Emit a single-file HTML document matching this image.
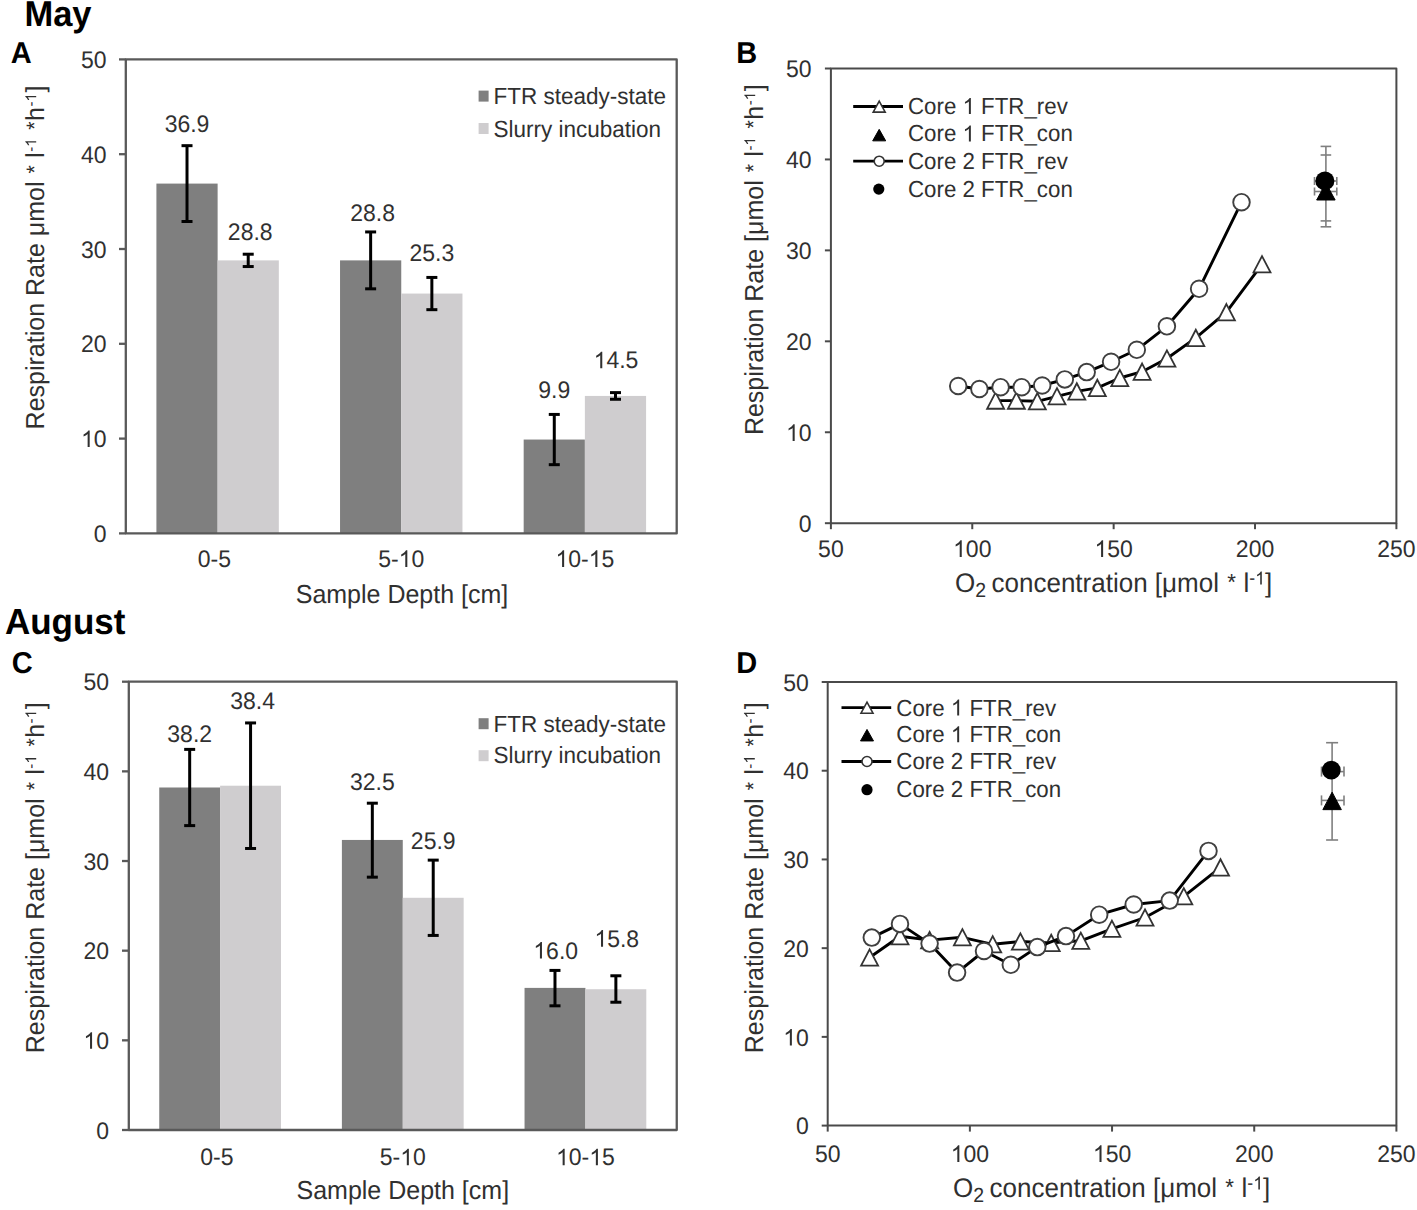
<!DOCTYPE html><html><head><meta charset="utf-8"><title>Respiration rates</title><style>html,body{margin:0;padding:0;background:#fff;width:1417px;height:1210px;overflow:hidden}body{position:relative;font-family:"Liberation Sans",sans-serif}</style></head><body><svg width="1417" height="1210" viewBox="0 0 1417 1210" style="position:absolute;left:0;top:0">
<rect width="1417" height="1210" fill="#fff"/>
<g text-rendering="geometricPrecision" font-family='"Liberation Sans", sans-serif'>
<rect x="156.41" y="183.59" width="61.21" height="349.81" fill="#7f7f7f"/>
<rect x="217.62" y="260.38" width="61.21" height="273.02" fill="#cfcdcf"/>
<rect x="340.04" y="260.38" width="61.21" height="273.02" fill="#7f7f7f"/>
<rect x="401.25" y="293.56" width="61.21" height="239.84" fill="#cfcdcf"/>
<rect x="523.67" y="439.55" width="61.21" height="93.85" fill="#7f7f7f"/>
<rect x="584.88" y="395.94" width="61.21" height="137.46" fill="#cfcdcf"/>
<path d="M125.80,533.40 L125.80,59.40 L676.70,59.40 L676.70,533.40 Z" fill="none" stroke="#595959" stroke-width="2.3" stroke-linejoin="round"/>
<line x1="119.00" y1="533.40" x2="125.80" y2="533.40" stroke="#595959" stroke-width="2.3" />
<g transform="translate(106.60,541.90) scale(1,1.04)"><text id="t0" x="0" y="0" font-size="23" text-anchor="end" font-weight="normal" fill="#303030">0</text></g>
<line x1="119.00" y1="438.60" x2="125.80" y2="438.60" stroke="#595959" stroke-width="2.3" />
<g transform="translate(106.60,447.10) scale(1,1.04)"><text id="t1" x="0" y="0" font-size="23" text-anchor="end" font-weight="normal" fill="#303030">&#x2007;0</text><path transform="translate(-25.59,0.00) scale(0.01136,-0.01136)" d="M763,0 L583,0 L583,1102 Q518,1043 413,983 Q308,925 224,895 L224,1062 Q375,1130 488,1227 Q601,1324 648,1409 L763,1409 Z" fill="#303030"/></g>
<line x1="119.00" y1="343.80" x2="125.80" y2="343.80" stroke="#595959" stroke-width="2.3" />
<g transform="translate(106.60,352.30) scale(1,1.04)"><text id="t2" x="0" y="0" font-size="23" text-anchor="end" font-weight="normal" fill="#303030">20</text></g>
<line x1="119.00" y1="249.00" x2="125.80" y2="249.00" stroke="#595959" stroke-width="2.3" />
<g transform="translate(106.60,257.50) scale(1,1.04)"><text id="t3" x="0" y="0" font-size="23" text-anchor="end" font-weight="normal" fill="#303030">30</text></g>
<line x1="119.00" y1="154.20" x2="125.80" y2="154.20" stroke="#595959" stroke-width="2.3" />
<g transform="translate(106.60,162.70) scale(1,1.04)"><text id="t4" x="0" y="0" font-size="23" text-anchor="end" font-weight="normal" fill="#303030">40</text></g>
<line x1="119.00" y1="59.40" x2="125.80" y2="59.40" stroke="#595959" stroke-width="2.3" />
<g transform="translate(106.60,67.90) scale(1,1.04)"><text id="t5" x="0" y="0" font-size="23" text-anchor="end" font-weight="normal" fill="#303030">50</text></g>
<line x1="187.01" y1="145.67" x2="187.01" y2="221.51" stroke="#000" stroke-width="3" />
<line x1="181.51" y1="145.67" x2="192.51" y2="145.67" stroke="#000" stroke-width="3" />
<line x1="181.51" y1="221.51" x2="192.51" y2="221.51" stroke="#000" stroke-width="3" />
<line x1="248.22" y1="254.21" x2="248.22" y2="266.54" stroke="#000" stroke-width="3" />
<line x1="242.72" y1="254.21" x2="253.72" y2="254.21" stroke="#000" stroke-width="3" />
<line x1="242.72" y1="266.54" x2="253.72" y2="266.54" stroke="#000" stroke-width="3" />
<line x1="370.64" y1="231.94" x2="370.64" y2="288.82" stroke="#000" stroke-width="3" />
<line x1="365.14" y1="231.94" x2="376.14" y2="231.94" stroke="#000" stroke-width="3" />
<line x1="365.14" y1="288.82" x2="376.14" y2="288.82" stroke="#000" stroke-width="3" />
<line x1="431.86" y1="277.44" x2="431.86" y2="309.67" stroke="#000" stroke-width="3" />
<line x1="426.36" y1="277.44" x2="437.36" y2="277.44" stroke="#000" stroke-width="3" />
<line x1="426.36" y1="309.67" x2="437.36" y2="309.67" stroke="#000" stroke-width="3" />
<line x1="554.28" y1="414.43" x2="554.28" y2="464.67" stroke="#000" stroke-width="3" />
<line x1="548.78" y1="414.43" x2="559.78" y2="414.43" stroke="#000" stroke-width="3" />
<line x1="548.78" y1="464.67" x2="559.78" y2="464.67" stroke="#000" stroke-width="3" />
<line x1="615.49" y1="392.62" x2="615.49" y2="399.26" stroke="#000" stroke-width="3" />
<line x1="609.99" y1="392.62" x2="620.99" y2="392.62" stroke="#000" stroke-width="3" />
<line x1="609.99" y1="399.26" x2="620.99" y2="399.26" stroke="#000" stroke-width="3" />
<g transform="translate(187.01,132.00) scale(1,1.04)"><text id="t6" x="0" y="0" font-size="23" text-anchor="middle" font-weight="normal" fill="#303030">36.9</text></g>
<g transform="translate(250.22,239.60) scale(1,1.04)"><text id="t7" x="0" y="0" font-size="23" text-anchor="middle" font-weight="normal" fill="#303030">28.8</text></g>
<g transform="translate(372.64,220.80) scale(1,1.04)"><text id="t8" x="0" y="0" font-size="23" text-anchor="middle" font-weight="normal" fill="#303030">28.8</text></g>
<g transform="translate(431.86,260.90) scale(1,1.04)"><text id="t9" x="0" y="0" font-size="23" text-anchor="middle" font-weight="normal" fill="#303030">25.3</text></g>
<g transform="translate(554.28,398.20) scale(1,1.04)"><text id="t10" x="0" y="0" font-size="23" text-anchor="middle" font-weight="normal" fill="#303030">9.9</text></g>
<g transform="translate(615.99,368.30) scale(1,1.04)"><text id="t11" x="0" y="0" font-size="23" text-anchor="middle" font-weight="normal" fill="#303030">&#x2007;4.5</text><path transform="translate(-22.38,0.00) scale(0.01136,-0.01136)" d="M763,0 L583,0 L583,1102 Q518,1043 413,983 Q308,925 224,895 L224,1062 Q375,1130 488,1227 Q601,1324 648,1409 L763,1409 Z" fill="#303030"/></g>
<rect x="478.60" y="90.60" width="10.00" height="11.00" fill="#7f7f7f"/>
<rect x="478.60" y="123.00" width="10.00" height="11.00" fill="#cfcdcf"/>
<g transform="translate(493.50,103.90) scale(1,1.04)"><text id="t12" x="0" y="0" font-size="22.5" text-anchor="start" font-weight="normal" fill="#303030">FTR steady-state</text></g>
<g transform="translate(493.50,136.50) scale(1,1.04)"><text id="t13" x="0" y="0" font-size="22.5" text-anchor="start" font-weight="normal" fill="#303030">Slurry incubation</text></g>
<g transform="translate(214.42,567.00) scale(1,1.04)"><text id="t14" x="0" y="0" font-size="23" text-anchor="middle" font-weight="normal" fill="#303030">0-5</text></g>
<g transform="translate(401.25,567.00) scale(1,1.04)"><text id="t15" x="0" y="0" font-size="23" text-anchor="middle" font-weight="normal" fill="#303030">5-&#x2007;0</text><path transform="translate(-2.59,0.00) scale(0.01136,-0.01136)" d="M763,0 L583,0 L583,1102 Q518,1043 413,983 Q308,925 224,895 L224,1062 Q375,1130 488,1227 Q601,1324 648,1409 L763,1409 Z" fill="#303030"/></g>
<g transform="translate(584.88,567.00) scale(1,1.04)"><text id="t16" x="0" y="0" font-size="23" text-anchor="middle" font-weight="normal" fill="#303030">&#x2007;0-&#x2007;5</text><path transform="translate(-29.41,0.00) scale(0.01136,-0.01136)" d="M763,0 L583,0 L583,1102 Q518,1043 413,983 Q308,925 224,895 L224,1062 Q375,1130 488,1227 Q601,1324 648,1409 L763,1409 Z" fill="#303030"/><path transform="translate(3.82,0.00) scale(0.01136,-0.01136)" d="M763,0 L583,0 L583,1102 Q518,1043 413,983 Q308,925 224,895 L224,1062 Q375,1130 488,1227 Q601,1324 648,1409 L763,1409 Z" fill="#303030"/></g>
<g transform="translate(402.00,602.60) scale(1,1.04)"><text id="t17" x="0" y="0" font-size="25" text-anchor="middle" font-weight="normal" fill="#303030">Sample Depth [cm]</text></g>
<g transform="translate(44.00,429.40) rotate(-90) scale(1,1.04)"><text id="t18" x="0" y="0" font-size="25" text-anchor="start" font-weight="normal" fill="#303030">Respiration Rate μmol <tspan font-size="21.50" dx="1.1" dy="-1.50">*</tspan><tspan dx="0.3" dy="1.50"> l</tspan><tspan font-size="15.0" dx="0.5" dy="-7.5">-&#x2007;</tspan><tspan dx="0.8" dy="7.5"> </tspan><tspan font-size="21.50" dx="1.1" dy="-1.50">*</tspan><tspan dx="0.3" dy="1.50">h</tspan><tspan font-size="15.0" dx="0.5" dy="-7.5">-&#x2007;</tspan><tspan dx="0.8" dy="7.5">]</tspan></text><path transform="translate(282.56,-7.50) scale(0.00743,-0.00743)" d="M763,0 L583,0 L583,1102 Q518,1043 413,983 Q308,925 224,895 L224,1062 Q375,1130 488,1227 Q601,1324 648,1409 L763,1409 Z" fill="#303030"/><path transform="translate(327.83,-7.50) scale(0.00743,-0.00743)" d="M763,0 L583,0 L583,1102 Q518,1043 413,983 Q308,925 224,895 L224,1062 Q375,1130 488,1227 Q601,1324 648,1409 L763,1409 Z" fill="#303030"/></g>
<g transform="translate(10.70,63.00) scale(1,1.04)"><text id="t19" x="0" y="0" font-size="29" text-anchor="start" font-weight="bold" fill="#000">A</text></g>
<g transform="translate(24.40,26.30) scale(1,1.04)"><text id="t20" x="0" y="0" font-size="34.5" text-anchor="start" font-weight="bold" fill="#000">May</text></g>
<rect x="159.24" y="787.50" width="60.88" height="342.50" fill="#7f7f7f"/>
<rect x="220.12" y="785.71" width="60.88" height="344.29" fill="#cfcdcf"/>
<rect x="341.89" y="839.95" width="60.88" height="290.05" fill="#7f7f7f"/>
<rect x="402.78" y="897.78" width="60.88" height="232.22" fill="#cfcdcf"/>
<rect x="524.54" y="987.89" width="60.88" height="142.11" fill="#7f7f7f"/>
<rect x="585.42" y="989.23" width="60.88" height="140.77" fill="#cfcdcf"/>
<path d="M128.80,1130.00 L128.80,681.70 L676.75,681.70 L676.75,1130.00 Z" fill="none" stroke="#595959" stroke-width="2.3" stroke-linejoin="round"/>
<line x1="122.00" y1="1130.00" x2="128.80" y2="1130.00" stroke="#595959" stroke-width="2.3" />
<g transform="translate(109.00,1138.50) scale(1,1.04)"><text id="t21" x="0" y="0" font-size="23" text-anchor="end" font-weight="normal" fill="#303030">0</text></g>
<line x1="122.00" y1="1040.34" x2="128.80" y2="1040.34" stroke="#595959" stroke-width="2.3" />
<g transform="translate(109.00,1048.84) scale(1,1.04)"><text id="t22" x="0" y="0" font-size="23" text-anchor="end" font-weight="normal" fill="#303030">&#x2007;0</text><path transform="translate(-25.59,0.00) scale(0.01136,-0.01136)" d="M763,0 L583,0 L583,1102 Q518,1043 413,983 Q308,925 224,895 L224,1062 Q375,1130 488,1227 Q601,1324 648,1409 L763,1409 Z" fill="#303030"/></g>
<line x1="122.00" y1="950.68" x2="128.80" y2="950.68" stroke="#595959" stroke-width="2.3" />
<g transform="translate(109.00,959.18) scale(1,1.04)"><text id="t23" x="0" y="0" font-size="23" text-anchor="end" font-weight="normal" fill="#303030">20</text></g>
<line x1="122.00" y1="861.02" x2="128.80" y2="861.02" stroke="#595959" stroke-width="2.3" />
<g transform="translate(109.00,869.52) scale(1,1.04)"><text id="t24" x="0" y="0" font-size="23" text-anchor="end" font-weight="normal" fill="#303030">30</text></g>
<line x1="122.00" y1="771.36" x2="128.80" y2="771.36" stroke="#595959" stroke-width="2.3" />
<g transform="translate(109.00,779.86) scale(1,1.04)"><text id="t25" x="0" y="0" font-size="23" text-anchor="end" font-weight="normal" fill="#303030">40</text></g>
<line x1="122.00" y1="681.70" x2="128.80" y2="681.70" stroke="#595959" stroke-width="2.3" />
<g transform="translate(109.00,690.20) scale(1,1.04)"><text id="t26" x="0" y="0" font-size="23" text-anchor="end" font-weight="normal" fill="#303030">50</text></g>
<line x1="189.68" y1="749.39" x2="189.68" y2="825.60" stroke="#000" stroke-width="3" />
<line x1="184.18" y1="749.39" x2="195.18" y2="749.39" stroke="#000" stroke-width="3" />
<line x1="184.18" y1="825.60" x2="195.18" y2="825.60" stroke="#000" stroke-width="3" />
<line x1="250.57" y1="722.94" x2="250.57" y2="848.47" stroke="#000" stroke-width="3" />
<line x1="245.07" y1="722.94" x2="256.07" y2="722.94" stroke="#000" stroke-width="3" />
<line x1="245.07" y1="848.47" x2="256.07" y2="848.47" stroke="#000" stroke-width="3" />
<line x1="372.33" y1="803.19" x2="372.33" y2="877.16" stroke="#000" stroke-width="3" />
<line x1="366.83" y1="803.19" x2="377.83" y2="803.19" stroke="#000" stroke-width="3" />
<line x1="366.83" y1="877.16" x2="377.83" y2="877.16" stroke="#000" stroke-width="3" />
<line x1="433.22" y1="860.12" x2="433.22" y2="935.44" stroke="#000" stroke-width="3" />
<line x1="427.72" y1="860.12" x2="438.72" y2="860.12" stroke="#000" stroke-width="3" />
<line x1="427.72" y1="935.44" x2="438.72" y2="935.44" stroke="#000" stroke-width="3" />
<line x1="554.98" y1="970.41" x2="554.98" y2="1005.82" stroke="#000" stroke-width="3" />
<line x1="549.48" y1="970.41" x2="560.48" y2="970.41" stroke="#000" stroke-width="3" />
<line x1="549.48" y1="1005.82" x2="560.48" y2="1005.82" stroke="#000" stroke-width="3" />
<line x1="615.87" y1="975.78" x2="615.87" y2="1002.23" stroke="#000" stroke-width="3" />
<line x1="610.37" y1="975.78" x2="621.37" y2="975.78" stroke="#000" stroke-width="3" />
<line x1="610.37" y1="1002.23" x2="621.37" y2="1002.23" stroke="#000" stroke-width="3" />
<g transform="translate(189.68,741.60) scale(1,1.04)"><text id="t27" x="0" y="0" font-size="23" text-anchor="middle" font-weight="normal" fill="#303030">38.2</text></g>
<g transform="translate(252.57,709.20) scale(1,1.04)"><text id="t28" x="0" y="0" font-size="23" text-anchor="middle" font-weight="normal" fill="#303030">38.4</text></g>
<g transform="translate(372.33,789.50) scale(1,1.04)"><text id="t29" x="0" y="0" font-size="23" text-anchor="middle" font-weight="normal" fill="#303030">32.5</text></g>
<g transform="translate(433.22,849.00) scale(1,1.04)"><text id="t30" x="0" y="0" font-size="23" text-anchor="middle" font-weight="normal" fill="#303030">25.9</text></g>
<g transform="translate(555.68,958.60) scale(1,1.04)"><text id="t31" x="0" y="0" font-size="23" text-anchor="middle" font-weight="normal" fill="#303030">&#x2007;6.0</text><path transform="translate(-22.38,0.00) scale(0.01136,-0.01136)" d="M763,0 L583,0 L583,1102 Q518,1043 413,983 Q308,925 224,895 L224,1062 Q375,1130 488,1227 Q601,1324 648,1409 L763,1409 Z" fill="#303030"/></g>
<g transform="translate(616.77,946.70) scale(1,1.04)"><text id="t32" x="0" y="0" font-size="23" text-anchor="middle" font-weight="normal" fill="#303030">&#x2007;5.8</text><path transform="translate(-22.38,0.00) scale(0.01136,-0.01136)" d="M763,0 L583,0 L583,1102 Q518,1043 413,983 Q308,925 224,895 L224,1062 Q375,1130 488,1227 Q601,1324 648,1409 L763,1409 Z" fill="#303030"/></g>
<rect x="478.60" y="718.20" width="10.00" height="11.00" fill="#7f7f7f"/>
<rect x="478.60" y="750.20" width="10.00" height="11.00" fill="#cfcdcf"/>
<g transform="translate(493.50,731.80) scale(1,1.04)"><text id="t33" x="0" y="0" font-size="22.5" text-anchor="start" font-weight="normal" fill="#303030">FTR steady-state</text></g>
<g transform="translate(493.50,762.90) scale(1,1.04)"><text id="t34" x="0" y="0" font-size="22.5" text-anchor="start" font-weight="normal" fill="#303030">Slurry incubation</text></g>
<g transform="translate(216.93,1165.30) scale(1,1.04)"><text id="t35" x="0" y="0" font-size="23" text-anchor="middle" font-weight="normal" fill="#303030">0-5</text></g>
<g transform="translate(402.78,1165.30) scale(1,1.04)"><text id="t36" x="0" y="0" font-size="23" text-anchor="middle" font-weight="normal" fill="#303030">5-&#x2007;0</text><path transform="translate(-2.59,0.00) scale(0.01136,-0.01136)" d="M763,0 L583,0 L583,1102 Q518,1043 413,983 Q308,925 224,895 L224,1062 Q375,1130 488,1227 Q601,1324 648,1409 L763,1409 Z" fill="#303030"/></g>
<g transform="translate(585.42,1165.30) scale(1,1.04)"><text id="t37" x="0" y="0" font-size="23" text-anchor="middle" font-weight="normal" fill="#303030">&#x2007;0-&#x2007;5</text><path transform="translate(-29.41,0.00) scale(0.01136,-0.01136)" d="M763,0 L583,0 L583,1102 Q518,1043 413,983 Q308,925 224,895 L224,1062 Q375,1130 488,1227 Q601,1324 648,1409 L763,1409 Z" fill="#303030"/><path transform="translate(3.82,0.00) scale(0.01136,-0.01136)" d="M763,0 L583,0 L583,1102 Q518,1043 413,983 Q308,925 224,895 L224,1062 Q375,1130 488,1227 Q601,1324 648,1409 L763,1409 Z" fill="#303030"/></g>
<g transform="translate(402.80,1199.20) scale(1,1.04)"><text id="t38" x="0" y="0" font-size="25" text-anchor="middle" font-weight="normal" fill="#303030">Sample Depth [cm]</text></g>
<g transform="translate(44.00,1053.20) rotate(-90) scale(1,1.04)"><text id="t39" x="0" y="0" font-size="25" text-anchor="start" font-weight="normal" fill="#303030">Respiration Rate [μmol <tspan font-size="21.50" dx="1.1" dy="-1.50">*</tspan><tspan dx="0.3" dy="1.50"> l</tspan><tspan font-size="15.0" dx="0.5" dy="-7.5">-&#x2007;</tspan><tspan dx="0.8" dy="7.5"> </tspan><tspan font-size="21.50" dx="1.1" dy="-1.50">*</tspan><tspan dx="0.3" dy="1.50">h</tspan><tspan font-size="15.0" dx="0.5" dy="-7.5">-&#x2007;</tspan><tspan dx="0.8" dy="7.5">]</tspan></text><path transform="translate(289.49,-7.50) scale(0.00743,-0.00743)" d="M763,0 L583,0 L583,1102 Q518,1043 413,983 Q308,925 224,895 L224,1062 Q375,1130 488,1227 Q601,1324 648,1409 L763,1409 Z" fill="#303030"/><path transform="translate(334.77,-7.50) scale(0.00743,-0.00743)" d="M763,0 L583,0 L583,1102 Q518,1043 413,983 Q308,925 224,895 L224,1062 Q375,1130 488,1227 Q601,1324 648,1409 L763,1409 Z" fill="#303030"/></g>
<g transform="translate(11.70,673.20) scale(1,1.04)"><text id="t40" x="0" y="0" font-size="29" text-anchor="start" font-weight="bold" fill="#000">C</text></g>
<g transform="translate(4.90,634.20) scale(1,1.04)"><text id="t41" x="0" y="0" font-size="35" text-anchor="start" font-weight="bold" fill="#000">August</text></g>
<path d="M830.90,523.20 L830.90,68.50 L1396.40,68.50 L1396.40,523.20 Z" fill="none" stroke="#4a4a4a" stroke-width="2.0" stroke-linejoin="round"/>
<line x1="824.90" y1="523.20" x2="830.90" y2="523.20" stroke="#4a4a4a" stroke-width="2.0" />
<g transform="translate(811.60,531.90) scale(1,1.04)"><text id="t42" x="0" y="0" font-size="23" text-anchor="end" font-weight="normal" fill="#303030">0</text></g>
<line x1="824.90" y1="432.26" x2="830.90" y2="432.26" stroke="#4a4a4a" stroke-width="2.0" />
<g transform="translate(811.60,440.96) scale(1,1.04)"><text id="t43" x="0" y="0" font-size="23" text-anchor="end" font-weight="normal" fill="#303030">&#x2007;0</text><path transform="translate(-25.59,0.00) scale(0.01136,-0.01136)" d="M763,0 L583,0 L583,1102 Q518,1043 413,983 Q308,925 224,895 L224,1062 Q375,1130 488,1227 Q601,1324 648,1409 L763,1409 Z" fill="#303030"/></g>
<line x1="824.90" y1="341.32" x2="830.90" y2="341.32" stroke="#4a4a4a" stroke-width="2.0" />
<g transform="translate(811.60,350.02) scale(1,1.04)"><text id="t44" x="0" y="0" font-size="23" text-anchor="end" font-weight="normal" fill="#303030">20</text></g>
<line x1="824.90" y1="250.38" x2="830.90" y2="250.38" stroke="#4a4a4a" stroke-width="2.0" />
<g transform="translate(811.60,259.08) scale(1,1.04)"><text id="t45" x="0" y="0" font-size="23" text-anchor="end" font-weight="normal" fill="#303030">30</text></g>
<line x1="824.90" y1="159.44" x2="830.90" y2="159.44" stroke="#4a4a4a" stroke-width="2.0" />
<g transform="translate(811.60,168.14) scale(1,1.04)"><text id="t46" x="0" y="0" font-size="23" text-anchor="end" font-weight="normal" fill="#303030">40</text></g>
<line x1="824.90" y1="68.50" x2="830.90" y2="68.50" stroke="#4a4a4a" stroke-width="2.0" />
<g transform="translate(811.60,77.20) scale(1,1.04)"><text id="t47" x="0" y="0" font-size="23" text-anchor="end" font-weight="normal" fill="#303030">50</text></g>
<line x1="830.90" y1="523.20" x2="830.90" y2="529.20" stroke="#4a4a4a" stroke-width="2.0" />
<g transform="translate(830.90,557.00) scale(1,1.04)"><text id="t48" x="0" y="0" font-size="23" text-anchor="middle" font-weight="normal" fill="#303030">50</text></g>
<line x1="972.27" y1="523.20" x2="972.27" y2="529.20" stroke="#4a4a4a" stroke-width="2.0" />
<g transform="translate(972.27,557.00) scale(1,1.04)"><text id="t49" x="0" y="0" font-size="23" text-anchor="middle" font-weight="normal" fill="#303030">&#x2007;00</text><path transform="translate(-19.19,0.00) scale(0.01136,-0.01136)" d="M763,0 L583,0 L583,1102 Q518,1043 413,983 Q308,925 224,895 L224,1062 Q375,1130 488,1227 Q601,1324 648,1409 L763,1409 Z" fill="#303030"/></g>
<line x1="1113.65" y1="523.20" x2="1113.65" y2="529.20" stroke="#4a4a4a" stroke-width="2.0" />
<g transform="translate(1113.65,557.00) scale(1,1.04)"><text id="t50" x="0" y="0" font-size="23" text-anchor="middle" font-weight="normal" fill="#303030">&#x2007;50</text><path transform="translate(-19.19,0.00) scale(0.01136,-0.01136)" d="M763,0 L583,0 L583,1102 Q518,1043 413,983 Q308,925 224,895 L224,1062 Q375,1130 488,1227 Q601,1324 648,1409 L763,1409 Z" fill="#303030"/></g>
<line x1="1255.03" y1="523.20" x2="1255.03" y2="529.20" stroke="#4a4a4a" stroke-width="2.0" />
<g transform="translate(1255.03,557.00) scale(1,1.04)"><text id="t51" x="0" y="0" font-size="23" text-anchor="middle" font-weight="normal" fill="#303030">200</text></g>
<line x1="1396.40" y1="523.20" x2="1396.40" y2="529.20" stroke="#4a4a4a" stroke-width="2.0" />
<g transform="translate(1396.40,557.00) scale(1,1.04)"><text id="t52" x="0" y="0" font-size="23" text-anchor="middle" font-weight="normal" fill="#303030">250</text></g>
<path d="M995.60,400.60 L1016.40,400.60 L1037.30,401.30 L1057.00,396.30 L1076.80,391.40 L1097.30,387.90 L1119.80,378.00 L1142.10,371.70 L1166.90,358.50 L1195.80,337.90 L1226.40,312.20 L1262.00,264.30" fill="none" stroke="#000" stroke-width="2.9" stroke-linejoin="round"/>
<path d="M995.60,392.45 L1004.10,408.75 L987.10,408.75 Z" fill="#fff" stroke="#333" stroke-width="1.8" stroke-linejoin="miter"/>
<path d="M1016.40,392.45 L1024.90,408.75 L1007.90,408.75 Z" fill="#fff" stroke="#333" stroke-width="1.8" stroke-linejoin="miter"/>
<path d="M1037.30,393.15 L1045.80,409.45 L1028.80,409.45 Z" fill="#fff" stroke="#333" stroke-width="1.8" stroke-linejoin="miter"/>
<path d="M1057.00,388.15 L1065.50,404.45 L1048.50,404.45 Z" fill="#fff" stroke="#333" stroke-width="1.8" stroke-linejoin="miter"/>
<path d="M1076.80,383.25 L1085.30,399.55 L1068.30,399.55 Z" fill="#fff" stroke="#333" stroke-width="1.8" stroke-linejoin="miter"/>
<path d="M1097.30,379.75 L1105.80,396.05 L1088.80,396.05 Z" fill="#fff" stroke="#333" stroke-width="1.8" stroke-linejoin="miter"/>
<path d="M1119.80,369.85 L1128.30,386.15 L1111.30,386.15 Z" fill="#fff" stroke="#333" stroke-width="1.8" stroke-linejoin="miter"/>
<path d="M1142.10,363.55 L1150.60,379.85 L1133.60,379.85 Z" fill="#fff" stroke="#333" stroke-width="1.8" stroke-linejoin="miter"/>
<path d="M1166.90,350.35 L1175.40,366.65 L1158.40,366.65 Z" fill="#fff" stroke="#333" stroke-width="1.8" stroke-linejoin="miter"/>
<path d="M1195.80,329.75 L1204.30,346.05 L1187.30,346.05 Z" fill="#fff" stroke="#333" stroke-width="1.8" stroke-linejoin="miter"/>
<path d="M1226.40,304.05 L1234.90,320.35 L1217.90,320.35 Z" fill="#fff" stroke="#333" stroke-width="1.8" stroke-linejoin="miter"/>
<path d="M1262.00,256.15 L1270.50,272.45 L1253.50,272.45 Z" fill="#fff" stroke="#333" stroke-width="1.8" stroke-linejoin="miter"/>
<path d="M958.20,386.00 L979.40,389.00 L1000.60,387.20 L1021.70,387.20 L1042.20,385.50 L1064.80,379.40 L1086.70,372.10 L1111.10,361.80 L1136.80,349.80 L1166.90,326.30 L1199.10,288.80 L1241.50,202.20" fill="none" stroke="#000" stroke-width="2.9" stroke-linejoin="round"/>
<circle cx="958.20" cy="386.00" r="8.3" fill="#fff" stroke="#404040" stroke-width="1.9"/>
<circle cx="979.40" cy="389.00" r="8.3" fill="#fff" stroke="#404040" stroke-width="1.9"/>
<circle cx="1000.60" cy="387.20" r="8.3" fill="#fff" stroke="#404040" stroke-width="1.9"/>
<circle cx="1021.70" cy="387.20" r="8.3" fill="#fff" stroke="#404040" stroke-width="1.9"/>
<circle cx="1042.20" cy="385.50" r="8.3" fill="#fff" stroke="#404040" stroke-width="1.9"/>
<circle cx="1064.80" cy="379.40" r="8.3" fill="#fff" stroke="#404040" stroke-width="1.9"/>
<circle cx="1086.70" cy="372.10" r="8.3" fill="#fff" stroke="#404040" stroke-width="1.9"/>
<circle cx="1111.10" cy="361.80" r="8.3" fill="#fff" stroke="#404040" stroke-width="1.9"/>
<circle cx="1136.80" cy="349.80" r="8.3" fill="#fff" stroke="#404040" stroke-width="1.9"/>
<circle cx="1166.90" cy="326.30" r="8.3" fill="#fff" stroke="#404040" stroke-width="1.9"/>
<circle cx="1199.10" cy="288.80" r="8.3" fill="#fff" stroke="#404040" stroke-width="1.9"/>
<circle cx="1241.50" cy="202.20" r="8.3" fill="#fff" stroke="#404040" stroke-width="1.9"/>
<line x1="1325.90" y1="146.40" x2="1325.90" y2="226.80" stroke="#7f7f7f" stroke-width="1.6" />
<line x1="1320.60" y1="146.40" x2="1331.20" y2="146.40" stroke="#7f7f7f" stroke-width="1.6" />
<line x1="1320.60" y1="155.00" x2="1331.20" y2="155.00" stroke="#7f7f7f" stroke-width="1.6" />
<line x1="1320.60" y1="220.90" x2="1331.20" y2="220.90" stroke="#7f7f7f" stroke-width="1.6" />
<line x1="1320.60" y1="226.80" x2="1331.20" y2="226.80" stroke="#7f7f7f" stroke-width="1.6" />
<line x1="1314.50" y1="181.00" x2="1336.80" y2="181.00" stroke="#7f7f7f" stroke-width="1.6" />
<line x1="1314.50" y1="177.00" x2="1314.50" y2="185.00" stroke="#7f7f7f" stroke-width="1.6" />
<line x1="1336.80" y1="177.00" x2="1336.80" y2="185.00" stroke="#7f7f7f" stroke-width="1.6" />
<line x1="1314.50" y1="191.50" x2="1336.80" y2="191.50" stroke="#7f7f7f" stroke-width="1.6" />
<line x1="1314.50" y1="187.50" x2="1314.50" y2="195.50" stroke="#7f7f7f" stroke-width="1.6" />
<line x1="1336.80" y1="187.50" x2="1336.80" y2="195.50" stroke="#7f7f7f" stroke-width="1.6" />
<path d="M1325.90,183.00 L1335.15,200.00 L1316.65,200.00 Z" fill="#000" stroke="#000" stroke-width="1" stroke-linejoin="miter"/>
<circle cx="1324.9" cy="180.9" r="9.5" fill="#000"/>
<line x1="853.20" y1="106.50" x2="903.00" y2="106.50" stroke="#000" stroke-width="2.8" />
<path d="M879.20,101.10 L885.20,112.10 L873.20,112.10 Z" fill="#fff" stroke="#333" stroke-width="1.6" stroke-linejoin="miter"/>
<path d="M879.20,129.35 L885.70,140.85 L872.70,140.85 Z" fill="#000" stroke="#000" stroke-width="1" stroke-linejoin="miter"/>
<line x1="853.20" y1="161.20" x2="903.00" y2="161.20" stroke="#000" stroke-width="2.8" />
<circle cx="879.20" cy="161.2" r="5" fill="#fff" stroke="#333" stroke-width="1.6"/>
<circle cx="878.80" cy="189.1" r="5.6" fill="#000"/>
<g transform="translate(908.00,114.00) scale(1,1.04)"><text id="t53" x="0" y="0" font-size="22.3" text-anchor="start" font-weight="normal" fill="#303030">Core &#x2007; FTR_rev</text><path transform="translate(54.52,0.00) scale(0.01093,-0.01093)" d="M763,0 L583,0 L583,1102 Q518,1043 413,983 Q308,925 224,895 L224,1062 Q375,1130 488,1227 Q601,1324 648,1409 L763,1409 Z" fill="#303030"/></g>
<g transform="translate(908.00,141.40) scale(1,1.04)"><text id="t54" x="0" y="0" font-size="22.3" text-anchor="start" font-weight="normal" fill="#303030">Core &#x2007; FTR_con</text><path transform="translate(54.52,0.00) scale(0.01093,-0.01093)" d="M763,0 L583,0 L583,1102 Q518,1043 413,983 Q308,925 224,895 L224,1062 Q375,1130 488,1227 Q601,1324 648,1409 L763,1409 Z" fill="#303030"/></g>
<g transform="translate(908.00,168.70) scale(1,1.04)"><text id="t55" x="0" y="0" font-size="22.3" text-anchor="start" font-weight="normal" fill="#303030">Core 2 FTR_rev</text></g>
<g transform="translate(908.00,197.00) scale(1,1.04)"><text id="t56" x="0" y="0" font-size="22.3" text-anchor="start" font-weight="normal" fill="#303030">Core 2 FTR_con</text></g>
<g transform="translate(763.00,435.10) rotate(-90) scale(1,1.04)"><text id="t57" x="0" y="0" font-size="25" text-anchor="start" font-weight="normal" fill="#303030">Respiration Rate [μmol <tspan font-size="21.50" dx="1.1" dy="-1.50">*</tspan><tspan dx="0.3" dy="1.50"> l</tspan><tspan font-size="15.0" dx="0.5" dy="-7.5">-&#x2007;</tspan><tspan dx="0.8" dy="7.5"> </tspan><tspan font-size="21.50" dx="1.1" dy="-1.50">*</tspan><tspan dx="0.3" dy="1.50">h</tspan><tspan font-size="15.0" dx="0.5" dy="-7.5">-&#x2007;</tspan><tspan dx="0.8" dy="7.5">]</tspan></text><path transform="translate(289.49,-7.50) scale(0.00743,-0.00743)" d="M763,0 L583,0 L583,1102 Q518,1043 413,983 Q308,925 224,895 L224,1062 Q375,1130 488,1227 Q601,1324 648,1409 L763,1409 Z" fill="#303030"/><path transform="translate(334.77,-7.50) scale(0.00743,-0.00743)" d="M763,0 L583,0 L583,1102 Q518,1043 413,983 Q308,925 224,895 L224,1062 Q375,1130 488,1227 Q601,1324 648,1409 L763,1409 Z" fill="#303030"/></g>
<g transform="translate(955.00,592.00) scale(1,1.04)"><text id="t58" x="0" y="0" font-size="26" text-anchor="start" font-weight="normal" fill="#303030">O<tspan font-size="19.5" dy="5.2">2 </tspan><tspan dy="-5.2">concentration [μmol </tspan><tspan font-size="22.36" dx="1.1" dy="-1.56">*</tspan><tspan dx="0.3" dy="1.56"> l</tspan><tspan font-size="17.7" dy="-7.3">-&#x2007;</tspan><tspan dy="7.3">]</tspan></text><path transform="translate(300.13,-7.30) scale(0.00874,-0.00874)" d="M763,0 L583,0 L583,1102 Q518,1043 413,983 Q308,925 224,895 L224,1062 Q375,1130 488,1227 Q601,1324 648,1409 L763,1409 Z" fill="#303030"/></g>
<g transform="translate(736.30,63.10) scale(1,1.04)"><text id="t59" x="0" y="0" font-size="29" text-anchor="start" font-weight="bold" fill="#000">B</text></g>
<path d="M827.70,1125.60 L827.70,682.00 L1396.40,682.00 L1396.40,1125.60 Z" fill="none" stroke="#4a4a4a" stroke-width="2.0" stroke-linejoin="round"/>
<line x1="821.70" y1="1125.60" x2="827.70" y2="1125.60" stroke="#4a4a4a" stroke-width="2.0" />
<g transform="translate(808.80,1134.30) scale(1,1.04)"><text id="t60" x="0" y="0" font-size="23" text-anchor="end" font-weight="normal" fill="#303030">0</text></g>
<line x1="821.70" y1="1036.88" x2="827.70" y2="1036.88" stroke="#4a4a4a" stroke-width="2.0" />
<g transform="translate(808.80,1045.58) scale(1,1.04)"><text id="t61" x="0" y="0" font-size="23" text-anchor="end" font-weight="normal" fill="#303030">&#x2007;0</text><path transform="translate(-25.59,0.00) scale(0.01136,-0.01136)" d="M763,0 L583,0 L583,1102 Q518,1043 413,983 Q308,925 224,895 L224,1062 Q375,1130 488,1227 Q601,1324 648,1409 L763,1409 Z" fill="#303030"/></g>
<line x1="821.70" y1="948.16" x2="827.70" y2="948.16" stroke="#4a4a4a" stroke-width="2.0" />
<g transform="translate(808.80,956.86) scale(1,1.04)"><text id="t62" x="0" y="0" font-size="23" text-anchor="end" font-weight="normal" fill="#303030">20</text></g>
<line x1="821.70" y1="859.44" x2="827.70" y2="859.44" stroke="#4a4a4a" stroke-width="2.0" />
<g transform="translate(808.80,868.14) scale(1,1.04)"><text id="t63" x="0" y="0" font-size="23" text-anchor="end" font-weight="normal" fill="#303030">30</text></g>
<line x1="821.70" y1="770.72" x2="827.70" y2="770.72" stroke="#4a4a4a" stroke-width="2.0" />
<g transform="translate(808.80,779.42) scale(1,1.04)"><text id="t64" x="0" y="0" font-size="23" text-anchor="end" font-weight="normal" fill="#303030">40</text></g>
<line x1="821.70" y1="682.00" x2="827.70" y2="682.00" stroke="#4a4a4a" stroke-width="2.0" />
<g transform="translate(808.80,690.70) scale(1,1.04)"><text id="t65" x="0" y="0" font-size="23" text-anchor="end" font-weight="normal" fill="#303030">50</text></g>
<line x1="827.70" y1="1125.60" x2="827.70" y2="1131.60" stroke="#4a4a4a" stroke-width="2.0" />
<g transform="translate(827.70,1162.00) scale(1,1.04)"><text id="t66" x="0" y="0" font-size="23" text-anchor="middle" font-weight="normal" fill="#303030">50</text></g>
<line x1="969.88" y1="1125.60" x2="969.88" y2="1131.60" stroke="#4a4a4a" stroke-width="2.0" />
<g transform="translate(969.88,1162.00) scale(1,1.04)"><text id="t67" x="0" y="0" font-size="23" text-anchor="middle" font-weight="normal" fill="#303030">&#x2007;00</text><path transform="translate(-19.19,0.00) scale(0.01136,-0.01136)" d="M763,0 L583,0 L583,1102 Q518,1043 413,983 Q308,925 224,895 L224,1062 Q375,1130 488,1227 Q601,1324 648,1409 L763,1409 Z" fill="#303030"/></g>
<line x1="1112.05" y1="1125.60" x2="1112.05" y2="1131.60" stroke="#4a4a4a" stroke-width="2.0" />
<g transform="translate(1112.05,1162.00) scale(1,1.04)"><text id="t68" x="0" y="0" font-size="23" text-anchor="middle" font-weight="normal" fill="#303030">&#x2007;50</text><path transform="translate(-19.19,0.00) scale(0.01136,-0.01136)" d="M763,0 L583,0 L583,1102 Q518,1043 413,983 Q308,925 224,895 L224,1062 Q375,1130 488,1227 Q601,1324 648,1409 L763,1409 Z" fill="#303030"/></g>
<line x1="1254.23" y1="1125.60" x2="1254.23" y2="1131.60" stroke="#4a4a4a" stroke-width="2.0" />
<g transform="translate(1254.23,1162.00) scale(1,1.04)"><text id="t69" x="0" y="0" font-size="23" text-anchor="middle" font-weight="normal" fill="#303030">200</text></g>
<line x1="1396.40" y1="1125.60" x2="1396.40" y2="1131.60" stroke="#4a4a4a" stroke-width="2.0" />
<g transform="translate(1396.40,1162.00) scale(1,1.04)"><text id="t70" x="0" y="0" font-size="23" text-anchor="middle" font-weight="normal" fill="#303030">250</text></g>
<path d="M869.60,957.50 L900.00,936.30 L929.60,940.10 L962.40,937.30 L992.70,944.30 L1020.40,941.50 L1051.20,942.90 L1080.80,940.80 L1111.90,928.80 L1145.00,917.50 L1183.80,896.30 L1220.50,867.40" fill="none" stroke="#000" stroke-width="2.9" stroke-linejoin="round"/>
<path d="M869.60,949.35 L878.10,965.65 L861.10,965.65 Z" fill="#fff" stroke="#333" stroke-width="1.8" stroke-linejoin="miter"/>
<path d="M900.00,928.15 L908.50,944.45 L891.50,944.45 Z" fill="#fff" stroke="#333" stroke-width="1.8" stroke-linejoin="miter"/>
<path d="M929.60,931.95 L938.10,948.25 L921.10,948.25 Z" fill="#fff" stroke="#333" stroke-width="1.8" stroke-linejoin="miter"/>
<path d="M962.40,929.15 L970.90,945.45 L953.90,945.45 Z" fill="#fff" stroke="#333" stroke-width="1.8" stroke-linejoin="miter"/>
<path d="M992.70,936.15 L1001.20,952.45 L984.20,952.45 Z" fill="#fff" stroke="#333" stroke-width="1.8" stroke-linejoin="miter"/>
<path d="M1020.40,933.35 L1028.90,949.65 L1011.90,949.65 Z" fill="#fff" stroke="#333" stroke-width="1.8" stroke-linejoin="miter"/>
<path d="M1051.20,934.75 L1059.70,951.05 L1042.70,951.05 Z" fill="#fff" stroke="#333" stroke-width="1.8" stroke-linejoin="miter"/>
<path d="M1080.80,932.65 L1089.30,948.95 L1072.30,948.95 Z" fill="#fff" stroke="#333" stroke-width="1.8" stroke-linejoin="miter"/>
<path d="M1111.90,920.65 L1120.40,936.95 L1103.40,936.95 Z" fill="#fff" stroke="#333" stroke-width="1.8" stroke-linejoin="miter"/>
<path d="M1145.00,909.35 L1153.50,925.65 L1136.50,925.65 Z" fill="#fff" stroke="#333" stroke-width="1.8" stroke-linejoin="miter"/>
<path d="M1183.80,888.15 L1192.30,904.45 L1175.30,904.45 Z" fill="#fff" stroke="#333" stroke-width="1.8" stroke-linejoin="miter"/>
<path d="M1220.50,859.25 L1229.00,875.55 L1212.00,875.55 Z" fill="#fff" stroke="#333" stroke-width="1.8" stroke-linejoin="miter"/>
<path d="M871.80,937.60 L900.00,923.90 L929.60,943.60 L957.10,972.60 L984.00,951.00 L1010.80,964.80 L1037.30,947.10 L1066.00,936.10 L1099.20,914.70 L1133.70,904.50 L1169.70,900.60 L1208.50,850.90" fill="none" stroke="#000" stroke-width="2.9" stroke-linejoin="round"/>
<circle cx="871.80" cy="937.60" r="8.3" fill="#fff" stroke="#404040" stroke-width="1.9"/>
<circle cx="900.00" cy="923.90" r="8.3" fill="#fff" stroke="#404040" stroke-width="1.9"/>
<circle cx="929.60" cy="943.60" r="8.3" fill="#fff" stroke="#404040" stroke-width="1.9"/>
<circle cx="957.10" cy="972.60" r="8.3" fill="#fff" stroke="#404040" stroke-width="1.9"/>
<circle cx="984.00" cy="951.00" r="8.3" fill="#fff" stroke="#404040" stroke-width="1.9"/>
<circle cx="1010.80" cy="964.80" r="8.3" fill="#fff" stroke="#404040" stroke-width="1.9"/>
<circle cx="1037.30" cy="947.10" r="8.3" fill="#fff" stroke="#404040" stroke-width="1.9"/>
<circle cx="1066.00" cy="936.10" r="8.3" fill="#fff" stroke="#404040" stroke-width="1.9"/>
<circle cx="1099.20" cy="914.70" r="8.3" fill="#fff" stroke="#404040" stroke-width="1.9"/>
<circle cx="1133.70" cy="904.50" r="8.3" fill="#fff" stroke="#404040" stroke-width="1.9"/>
<circle cx="1169.70" cy="900.60" r="8.3" fill="#fff" stroke="#404040" stroke-width="1.9"/>
<circle cx="1208.50" cy="850.90" r="8.3" fill="#fff" stroke="#404040" stroke-width="1.9"/>
<line x1="1332.10" y1="742.70" x2="1332.10" y2="840.00" stroke="#7f7f7f" stroke-width="1.6" />
<line x1="1326.10" y1="742.70" x2="1338.10" y2="742.70" stroke="#7f7f7f" stroke-width="1.6" />
<line x1="1326.10" y1="840.00" x2="1338.10" y2="840.00" stroke="#7f7f7f" stroke-width="1.6" />
<line x1="1321.50" y1="771.60" x2="1344.00" y2="771.60" stroke="#7f7f7f" stroke-width="1.6" />
<line x1="1321.50" y1="766.60" x2="1321.50" y2="776.60" stroke="#7f7f7f" stroke-width="1.6" />
<line x1="1344.00" y1="766.60" x2="1344.00" y2="776.60" stroke="#7f7f7f" stroke-width="1.6" />
<line x1="1321.50" y1="800.40" x2="1344.00" y2="800.40" stroke="#7f7f7f" stroke-width="1.6" />
<line x1="1321.50" y1="795.40" x2="1321.50" y2="805.40" stroke="#7f7f7f" stroke-width="1.6" />
<line x1="1344.00" y1="795.40" x2="1344.00" y2="805.40" stroke="#7f7f7f" stroke-width="1.6" />
<path d="M1332.10,792.15 L1341.35,809.65 L1322.85,809.65 Z" fill="#000" stroke="#000" stroke-width="1" stroke-linejoin="miter"/>
<circle cx="1331.3" cy="770.1" r="9.4" fill="#000"/>
<line x1="841.50" y1="707.60" x2="891.20" y2="707.60" stroke="#000" stroke-width="2.8" />
<path d="M867.00,702.20 L873.00,713.20 L861.00,713.20 Z" fill="#fff" stroke="#333" stroke-width="1.6" stroke-linejoin="miter"/>
<path d="M867.00,729.45 L873.50,740.95 L860.50,740.95 Z" fill="#000" stroke="#000" stroke-width="1" stroke-linejoin="miter"/>
<line x1="841.50" y1="761.50" x2="891.20" y2="761.50" stroke="#000" stroke-width="2.8" />
<circle cx="867.00" cy="761.5" r="5" fill="#fff" stroke="#333" stroke-width="1.6"/>
<circle cx="867.00" cy="789.7" r="5.6" fill="#000"/>
<g transform="translate(896.30,715.60) scale(1,1.04)"><text id="t71" x="0" y="0" font-size="22.3" text-anchor="start" font-weight="normal" fill="#303030">Core &#x2007; FTR_rev</text><path transform="translate(54.52,0.00) scale(0.01093,-0.01093)" d="M763,0 L583,0 L583,1102 Q518,1043 413,983 Q308,925 224,895 L224,1062 Q375,1130 488,1227 Q601,1324 648,1409 L763,1409 Z" fill="#303030"/></g>
<g transform="translate(896.30,742.30) scale(1,1.04)"><text id="t72" x="0" y="0" font-size="22.3" text-anchor="start" font-weight="normal" fill="#303030">Core &#x2007; FTR_con</text><path transform="translate(54.52,0.00) scale(0.01093,-0.01093)" d="M763,0 L583,0 L583,1102 Q518,1043 413,983 Q308,925 224,895 L224,1062 Q375,1130 488,1227 Q601,1324 648,1409 L763,1409 Z" fill="#303030"/></g>
<g transform="translate(896.30,769.40) scale(1,1.04)"><text id="t73" x="0" y="0" font-size="22.3" text-anchor="start" font-weight="normal" fill="#303030">Core 2 FTR_rev</text></g>
<g transform="translate(896.30,797.30) scale(1,1.04)"><text id="t74" x="0" y="0" font-size="22.3" text-anchor="start" font-weight="normal" fill="#303030">Core 2 FTR_con</text></g>
<g transform="translate(762.60,1053.20) rotate(-90) scale(1,1.04)"><text id="t75" x="0" y="0" font-size="25" text-anchor="start" font-weight="normal" fill="#303030">Respiration Rate [μmol <tspan font-size="21.50" dx="1.1" dy="-1.50">*</tspan><tspan dx="0.3" dy="1.50"> l</tspan><tspan font-size="15.0" dx="0.5" dy="-7.5">-&#x2007;</tspan><tspan dx="0.8" dy="7.5"> </tspan><tspan font-size="21.50" dx="1.1" dy="-1.50">*</tspan><tspan dx="0.3" dy="1.50">h</tspan><tspan font-size="15.0" dx="0.5" dy="-7.5">-&#x2007;</tspan><tspan dx="0.8" dy="7.5">]</tspan></text><path transform="translate(289.49,-7.50) scale(0.00743,-0.00743)" d="M763,0 L583,0 L583,1102 Q518,1043 413,983 Q308,925 224,895 L224,1062 Q375,1130 488,1227 Q601,1324 648,1409 L763,1409 Z" fill="#303030"/><path transform="translate(334.77,-7.50) scale(0.00743,-0.00743)" d="M763,0 L583,0 L583,1102 Q518,1043 413,983 Q308,925 224,895 L224,1062 Q375,1130 488,1227 Q601,1324 648,1409 L763,1409 Z" fill="#303030"/></g>
<g transform="translate(953.10,1197.00) scale(1,1.04)"><text id="t76" x="0" y="0" font-size="26" text-anchor="start" font-weight="normal" fill="#303030">O<tspan font-size="19.5" dy="5.2">2 </tspan><tspan dy="-5.2">concentration [μmol </tspan><tspan font-size="22.36" dx="1.1" dy="-1.56">*</tspan><tspan dx="0.3" dy="1.56"> l</tspan><tspan font-size="17.7" dy="-7.3">-&#x2007;</tspan><tspan dy="7.3">]</tspan></text><path transform="translate(300.13,-7.30) scale(0.00874,-0.00874)" d="M763,0 L583,0 L583,1102 Q518,1043 413,983 Q308,925 224,895 L224,1062 Q375,1130 488,1227 Q601,1324 648,1409 L763,1409 Z" fill="#303030"/></g>
<g transform="translate(736.30,673.10) scale(1,1.04)"><text id="t77" x="0" y="0" font-size="29" text-anchor="start" font-weight="bold" fill="#000">D</text></g>
</g></svg></body></html>
